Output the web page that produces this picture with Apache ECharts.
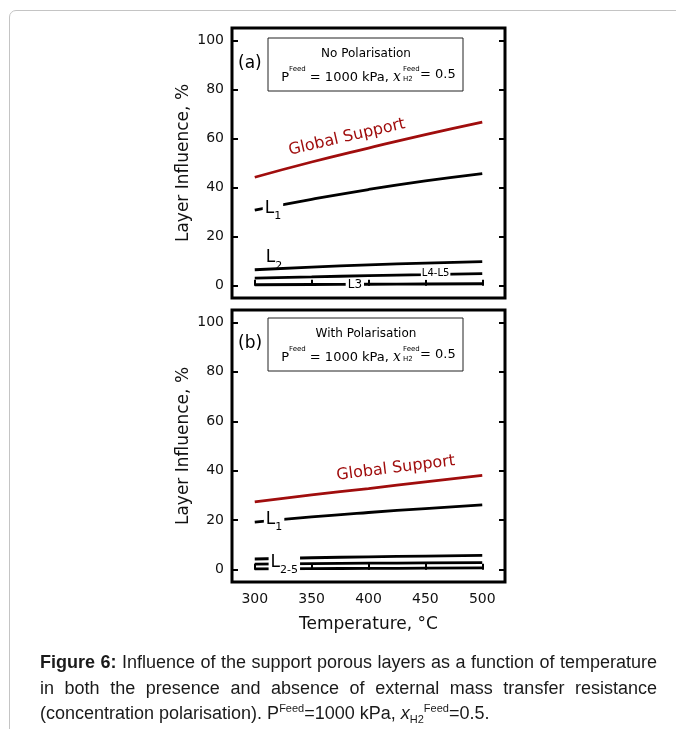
<!DOCTYPE html>
<html>
<head>
<meta charset="utf-8">
<script src="https://cdn.jsdelivr.net/npm/echarts@6/dist/echarts.min.js"></script>
<style>
  html, body { margin: 0; padding: 0; background: #fff; overflow: hidden; }
  body { width: 676px; height: 729px; position: relative; }
  #frame { position: absolute; left: 9px; top: 10px; width: 720px; height: 780px;
           border: 1px solid #c4c4c4; border-radius: 7px; }
  #main { position: absolute; left: 0; top: 0; width: 676px; height: 729px; }
  #cap { position: absolute; left: 40px; top: 650px; width: 617px;
         font-family: "Liberation Sans", Arial, sans-serif; font-size: 18px;
         line-height: 25.5px; color: #1a1a1a; }
  #cap .j { text-align: justify; text-align-last: justify; white-space: nowrap; }
  #cap sup, #cap sub { font-size: 11px; line-height: 0; position: relative; vertical-align: baseline; }
  #cap sup { top: -7px; }
  #cap sub { top: 4px; }
</style>
</head>
<body>
<div id="frame"></div>
<div id="main"></div>
<div id="cap">
  <div class="j"><b>Figure 6:</b> Influence of the support porous layers as a function of temperature</div>
  <div class="j">in both the presence and absence of external mass transfer resistance</div>
  <div>(concentration polarisation). P<sup>Feed</sup>=1000 kPa, <i>x</i><sub>H2</sub><sup>Feed</sup>=0.5.</div>
</div>
<script>
// 数据
const temps = [300, 350, 400, 450, 500];
const xTicks = [300, 350, 400, 450, 500];
const yTicks = [0, 20, 40, 60, 80, 100];

// (a) 无浓差极化
const globalA = [44.2, 50.4, 56.1, 61.6, 66.7];
const l1A = [30.8, 35.2, 39.2, 42.7, 45.7];
const l2A = [6.5, 7.6, 8.5, 9.2, 9.8];
const l45A = [3.1, 3.6, 4.1, 4.5, 4.9];
const l3A = [0.4, 0.5, 0.6, 0.7, 0.8];

// (b) 有浓差极化
const globalB = [27.4, 30.2, 32.8, 35.5, 38.1];
const l1B = [19.2, 21.3, 23.1, 24.7, 26.2];
const l2B = [4.3, 4.8, 5.2, 5.5, 5.8];
const l3B = [2.2, 2.4, 2.6, 2.7, 2.8];
const l4B = [0.3, 0.4, 0.5, 0.6, 0.7];

const FONT = "DejaVu Sans";
const RED = "#a00d0d";

const pairs = (ys) => temps.map((t, i) => [t, ys[i]]);

function line(name, ys, gi, color) {
  return {
    type: "line", name: name, data: pairs(ys),
    xAxisIndex: gi, yAxisIndex: gi * 2,
    showSymbol: false, smooth: 0.5, z: 3,
    lineStyle: { color: color || "#000", width: 2.8 }
  };
}

const subRich = {
  a: { fontFamily: FONT, fontSize: 17, color: "#000", lineHeight: 22, verticalAlign: "top" },
  b: { fontFamily: FONT, fontSize: 11, color: "#000", lineHeight: 22, verticalAlign: "bottom" }
};

function tag(pos, text, opts) {
  return {
    value: pos,
    label: Object.assign({
      show: true, position: "inside", formatter: text, opacity: 1,
      fontFamily: FONT, fontSize: 17, color: "#000", rich: subRich
    }, opts || {})
  };
}

function labels(gi, items) {
  return {
    type: "scatter", xAxisIndex: gi, yAxisIndex: gi * 2,
    symbolSize: 0, z: 6, silent: true, data: items,
    itemStyle: { opacity: 1 }
  };
}

function yLeft(gi) {
  return {
    type: "value", gridIndex: gi, min: -5, max: 105, position: "left",
    axisLine: { show: false }, splitLine: { show: false },
    axisTick: { inside: true, length: 6, customValues: yTicks, lineStyle: { color: "#000", width: 2 } },
    axisLabel: { customValues: yTicks, margin: 8, fontFamily: FONT, fontSize: 14, color: "#111" },
    name: "Layer Influence, %", nameLocation: "middle", nameGap: 40,
    nameTextStyle: { fontFamily: FONT, fontSize: 17, color: "#111" }
  };
}
function yRight(gi) {
  return {
    type: "value", gridIndex: gi, min: -5, max: 105, position: "right",
    axisLine: { show: false }, splitLine: { show: false },
    axisTick: { inside: true, length: 6, customValues: yTicks, lineStyle: { color: "#000", width: 2 } },
    axisLabel: { show: false }
  };
}
function xBottom(gi, showLabels) {
  const ax = {
    type: "value", gridIndex: gi, min: 280, max: 520, position: "bottom",
    axisLine: { show: false }, splitLine: { show: false },
    axisTick: { inside: true, length: 6, customValues: xTicks, lineStyle: { color: "#000", width: 2 } },
    axisLabel: { show: showLabels, customValues: xTicks, margin: 10, fontFamily: FONT, fontSize: 14, color: "#111" }
  };
  if (showLabels) {
    ax.name = "Temperature, °C";
    ax.nameLocation = "middle";
    ax.nameGap = 34;
    ax.nameTextStyle = { fontFamily: FONT, fontSize: 17, color: "#111" };
  }
  return ax;
}

// 注释框
function box(top, title, letter) {
  return [
    { type: "text", left: 238, top: top + 17, style: { text: letter, font: "17px " + FONT, fill: "#000" } },
    { type: "rect", shape: { x: 268, y: top, width: 195, height: 53 },
      style: { fill: "#fff", stroke: "#222", lineWidth: 1 } },
    { type: "text", x: 366, y: top + 16, style: { text: title, font: "12px " + FONT, fill: "#000", align: "center", verticalAlign: "middle" } },
    { type: "text", x: 401, y: top + 37, style: {
        text: "{n|P}{s|Feed}{n| = 1000 kPa, }{i|x}", align: "right", verticalAlign: "middle",
        rich: {
          n: { fontFamily: FONT, fontSize: 13, lineHeight: 18, verticalAlign: "bottom", fill: "#000" },
          i: { fontFamily: "DejaVu Serif", fontStyle: "italic", fontSize: 14, lineHeight: 18, verticalAlign: "bottom", fill: "#000" },
          s: { fontFamily: FONT, fontSize: 7, lineHeight: 18, verticalAlign: "top", fill: "#000" }
        } } },
    { type: "text", x: 403, y: top + 31, style: { text: "Feed", font: "7px " + FONT, fill: "#000", verticalAlign: "middle" } },
    { type: "text", x: 403, y: top + 41, style: { text: "H2", font: "7px " + FONT, fill: "#000", verticalAlign: "middle" } },
    { type: "text", x: 420, y: top + 37, style: { text: "= 0.5", font: "13px " + FONT, fill: "#000", verticalAlign: "middle" } }
  ];
}

const chart = echarts.init(document.getElementById("main"), null, { renderer: "canvas" });

const option = {
  animation: false,
  backgroundColor: "transparent",
  grid: [
    { left: 232, top: 28, width: 273, height: 270, show: true, borderColor: "#000", borderWidth: 3, backgroundColor: "transparent" },
    { left: 232, top: 310, width: 273, height: 272, show: true, borderColor: "#000", borderWidth: 3, backgroundColor: "transparent" }
  ],
  xAxis: [xBottom(0, false), xBottom(1, true)],
  yAxis: [yLeft(0), yRight(0), yLeft(1), yRight(1)],
  series: [
    line("Global Support (a)", globalA, 0, RED),
    line("L1 (a)", l1A, 0),
    line("L2 (a)", l2A, 0),
    line("L4-L5 (a)", l45A, 0),
    line("L3 (a)", l3A, 0),
    labels(0, [
      tag([381, 60.5], "Global Support", { color: RED, fontSize: 16, rotate: 13 }),
      tag([316, 30.6], "{a|L}{b|1}", { backgroundColor: "#fff", padding: [0, 2] }),
      tag([317, 10.4], "{a|L}{b|2}"),
      tag([459, 4.9], "L4-L5", { fontSize: 10, backgroundColor: "#fff", padding: [1, 1] }),
      tag([388, 0.4], "L3", { fontSize: 12, backgroundColor: "#fff", padding: [0, 2] })
    ]),
    line("Global Support (b)", globalB, 1, RED),
    line("L1 (b)", l1B, 1),
    line("L2 (b)", l2B, 1),
    line("L3 (b)", l3B, 1),
    line("L4-L5 (b)", l4B, 1),
    labels(1, [
      tag([424, 41], "Global Support", { color: RED, fontSize: 16, rotate: 7 }),
      tag([317, 19.4], "{a|L}{b|1}", { backgroundColor: "#fff", padding: [0, 2] }),
      tag([326, 2], "{a|L}{b|2-5}", { backgroundColor: "#fff", padding: [0, 2] })
    ])
  ],
  graphic: [].concat(
    box(38, "No Polarisation", "(a)"),
    box(318, "With Polarisation", "(b)")
  )
};

chart.setOption(option);
</script>
</body>
</html>
